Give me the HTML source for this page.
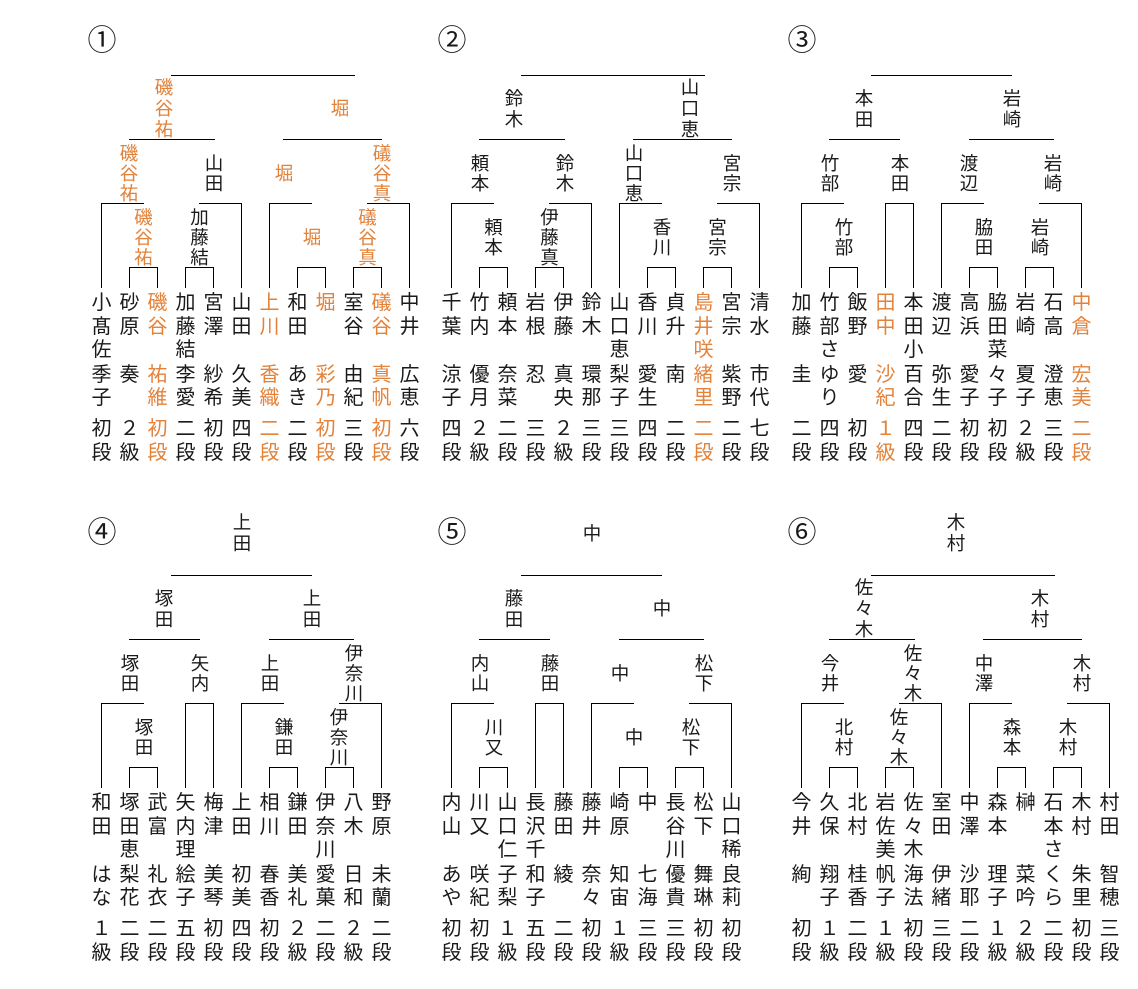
<!DOCTYPE html>
<html><head><meta charset="utf-8">
<style>
html,body{margin:0;padding:0;background:#fff}
body{width:1138px;height:989px;position:relative;overflow:hidden;font-family:"Liberation Sans","Noto Sans CJK JP",sans-serif;color:#1a1a1a}
svg{position:absolute;left:0;top:0}
.c{position:absolute;width:40px;height:10px}
.c div{position:absolute;left:0;width:40px;text-align:center;font-size:20px}
.c .s{top:292.1px;line-height:23.5px}
.c .g{top:364.2px;line-height:23px}
.c .r{top:416.7px;line-height:24px}
.l{position:absolute;width:40px;text-align:center;font-size:18.5px;line-height:20px}
.lt{line-height:21px}
.o{color:#e3823a}
.n{position:absolute;width:40px;text-align:center;font-size:29px;line-height:32px}
</style></head><body>
<svg width="1138" height="989" viewBox="0 0 1138 989" shape-rendering="crispEdges">
<defs>
<g id="A" fill="#000">
<rect x="171" y="75" width="184" height="1"/>
<rect x="129" y="139" width="86" height="1"/>
<rect x="283" y="139" width="99" height="1"/>
<rect x="101" y="203" width="43" height="1"/><rect x="101" y="203" width="1" height="85"/>
<rect x="199" y="203" width="43" height="1"/><rect x="241" y="203" width="1" height="85"/>
<rect x="269" y="203" width="43" height="1"/><rect x="269" y="203" width="1" height="85"/>
<rect x="367" y="203" width="43" height="1"/><rect x="409" y="203" width="1" height="85"/>
<rect x="129" y="267" width="29" height="1"/><rect x="129" y="267" width="1" height="21"/><rect x="157" y="267" width="1" height="21"/>
<rect x="185" y="267" width="29" height="1"/><rect x="185" y="267" width="1" height="21"/><rect x="213" y="267" width="1" height="21"/>
<rect x="297" y="267" width="29" height="1"/><rect x="297" y="267" width="1" height="21"/><rect x="325" y="267" width="1" height="21"/>
<rect x="353" y="267" width="29" height="1"/><rect x="353" y="267" width="1" height="21"/><rect x="381" y="267" width="1" height="21"/>
</g>
<g id="B" fill="#000">
<rect x="171" y="75" width="141" height="1"/>
<rect x="129" y="139" width="71" height="1"/>
<rect x="269" y="139" width="85" height="1"/>
<rect x="101" y="203" width="43" height="1"/><rect x="101" y="203" width="1" height="85"/>
<rect x="185" y="203" width="29" height="1"/><rect x="185" y="203" width="1" height="85"/><rect x="213" y="203" width="1" height="85"/>
<rect x="241" y="203" width="43" height="1"/><rect x="241" y="203" width="1" height="85"/>
<rect x="339" y="203" width="43" height="1"/><rect x="381" y="203" width="1" height="85"/>
<rect x="129" y="267" width="29" height="1"/><rect x="129" y="267" width="1" height="21"/><rect x="157" y="267" width="1" height="21"/>
<rect x="269" y="267" width="29" height="1"/><rect x="269" y="267" width="1" height="21"/><rect x="297" y="267" width="1" height="21"/>
<rect x="325" y="267" width="29" height="1"/><rect x="325" y="267" width="1" height="21"/><rect x="353" y="267" width="1" height="21"/>
</g>
</defs>
<use href="#A"/>
<use href="#A" transform="translate(350,0)"/>
<use href="#B" transform="translate(700,0)"/>
<use href="#B" transform="translate(0,500)"/>
<use href="#B" transform="translate(350,500)"/>
<use href="#A" transform="translate(700,500)"/>
</svg>

<!-- numbers -->
<div class="n" style="left:82px;top:24.5px">①</div>
<div class="n" style="left:432px;top:24.5px">②</div>
<div class="n" style="left:782px;top:24.5px">③</div>
<div class="n" style="left:82px;top:516.5px">④</div>
<div class="n" style="left:432px;top:516.5px">⑤</div>
<div class="n" style="left:782px;top:516.5px">⑥</div>

<!-- Bracket 1 labels -->
<div class="l lt o" style="left:144px;top:77.1px">磯<br>谷<br>祐</div>
<div class="l lt o" style="left:320px;top:98.1px">堀</div>
<div class="l o" style="left:109px;top:143.6px">磯<br>谷<br>祐</div>
<div class="l" style="left:194px;top:153.6px">山<br>田</div>
<div class="l o" style="left:264px;top:163.6px">堀</div>
<div class="l o" style="left:362px;top:143.6px">礒<br>谷<br>真</div>
<div class="l o" style="left:123.5px;top:207.6px">磯<br>谷<br>祐</div>
<div class="l" style="left:179.5px;top:207.6px">加<br>藤<br>結</div>
<div class="l o" style="left:292px;top:227.6px">堀</div>
<div class="l o" style="left:347.5px;top:207.6px">礒<br>谷<br>真</div>

<!-- Bracket 2 labels -->
<div class="l lt" style="left:494px;top:87.6px">鈴<br>木</div>
<div class="l lt" style="left:670px;top:77.1px">山<br>口<br>恵</div>
<div class="l" style="left:460px;top:153.6px">頼<br>本</div>
<div class="l" style="left:545px;top:153.6px">鈴<br>木</div>
<div class="l" style="left:614px;top:143.6px">山<br>口<br>恵</div>
<div class="l" style="left:712px;top:153.6px">宮<br>宗</div>
<div class="l" style="left:473.5px;top:217.6px">頼<br>本</div>
<div class="l" style="left:529.5px;top:207.6px">伊<br>藤<br>真</div>
<div class="l" style="left:642px;top:217.6px">香<br>川</div>
<div class="l" style="left:697.5px;top:217.6px">宮<br>宗</div>

<!-- Bracket 3 labels -->
<div class="l lt" style="left:844px;top:87.6px">本<br>田</div>
<div class="l lt" style="left:992px;top:87.6px">岩<br>崎</div>
<div class="l" style="left:810px;top:153.6px">竹<br>部</div>
<div class="l" style="left:880px;top:153.6px">本<br>田</div>
<div class="l" style="left:949px;top:153.6px">渡<br>辺</div>
<div class="l" style="left:1033px;top:153.6px">岩<br>崎</div>
<div class="l" style="left:824px;top:217.6px">竹<br>部</div>
<div class="l" style="left:964px;top:217.6px">脇<br>田</div>
<div class="l" style="left:1020px;top:217.6px">岩<br>崎</div>

<!-- Bracket 4 labels -->
<div class="l lt" style="left:222px;top:512.1px">上<br>田</div>
<div class="l lt" style="left:144px;top:587.6px">塚<br>田</div>
<div class="l lt" style="left:292px;top:587.6px">上<br>田</div>
<div class="l" style="left:110px;top:653.6px">塚<br>田</div>
<div class="l" style="left:180px;top:653.6px">矢<br>内</div>
<div class="l" style="left:250px;top:653.6px">上<br>田</div>
<div class="l" style="left:334px;top:643.6px">伊<br>奈<br>川</div>
<div class="l" style="left:124px;top:717.6px">塚<br>田</div>
<div class="l" style="left:264px;top:717.6px">鎌<br>田</div>
<div class="l" style="left:319px;top:707.6px">伊<br>奈<br>川</div>

<!-- Bracket 5 labels -->
<div class="l lt" style="left:572px;top:522.6px">中</div>
<div class="l lt" style="left:494px;top:587.6px">藤<br>田</div>
<div class="l lt" style="left:642px;top:598.1px">中</div>
<div class="l" style="left:460px;top:653.6px">内<br>山</div>
<div class="l" style="left:530px;top:653.6px">藤<br>田</div>
<div class="l" style="left:600px;top:663.6px">中</div>
<div class="l" style="left:684px;top:653.6px">松<br>下</div>
<div class="l" style="left:474px;top:717.6px">川<br>又</div>
<div class="l" style="left:614px;top:727.6px">中</div>
<div class="l" style="left:671px;top:717.6px">松<br>下</div>

<!-- Bracket 6 labels -->
<div class="l lt" style="left:936px;top:512.1px">木<br>村</div>
<div class="l lt" style="left:844px;top:577.1px">佐<br>々<br>木</div>
<div class="l lt" style="left:1020px;top:587.6px">木<br>村</div>
<div class="l" style="left:810px;top:653.6px">今<br>井</div>
<div class="l" style="left:893px;top:643.6px">佐<br>々<br>木</div>
<div class="l" style="left:964px;top:653.6px">中<br>澤</div>
<div class="l" style="left:1062px;top:653.6px">木<br>村</div>
<div class="l" style="left:824px;top:717.6px">北<br>村</div>
<div class="l" style="left:879px;top:707.6px">佐<br>々<br>木</div>
<div class="l" style="left:992px;top:717.6px">森<br>本</div>
<div class="l" style="left:1048px;top:717.6px">木<br>村</div>

<!-- Bracket 1 players -->
<div class="c" style="left:81.5px;top:0"><div class="s">小<br>髙<br>佐</div><div class="g">季<br>子</div><div class="r">初<br>段</div></div>
<div class="c" style="left:109.5px;top:0"><div class="s">砂<br>原</div><div class="g">奏</div><div class="r">２<br>級</div></div>
<div class="c o" style="left:137.5px;top:0"><div class="s">磯<br>谷</div><div class="g">祐<br>維</div><div class="r">初<br>段</div></div>
<div class="c" style="left:165.5px;top:0"><div class="s">加<br>藤<br>結</div><div class="g">李<br>愛</div><div class="r">二<br>段</div></div>
<div class="c" style="left:193.5px;top:0"><div class="s">宮<br>澤</div><div class="g">紗<br>希</div><div class="r">初<br>段</div></div>
<div class="c" style="left:221.5px;top:0"><div class="s">山<br>田</div><div class="g">久<br>美</div><div class="r">四<br>段</div></div>
<div class="c o" style="left:249.5px;top:0"><div class="s">上<br>川</div><div class="g">香<br>織</div><div class="r">二<br>段</div></div>
<div class="c" style="left:277.5px;top:0"><div class="s">和<br>田</div><div class="g">あ<br>き</div><div class="r">二<br>段</div></div>
<div class="c o" style="left:305.5px;top:0"><div class="s">堀</div><div class="g">彩<br>乃</div><div class="r">初<br>段</div></div>
<div class="c" style="left:333.5px;top:0"><div class="s">室<br>谷</div><div class="g">由<br>紀</div><div class="r">三<br>段</div></div>
<div class="c o" style="left:361.5px;top:0"><div class="s">礒<br>谷</div><div class="g">真<br>帆</div><div class="r">初<br>段</div></div>
<div class="c" style="left:389.5px;top:0"><div class="s">中<br>井</div><div class="g">広<br>恵</div><div class="r">六<br>段</div></div>

<!-- Bracket 2 players -->
<div class="c" style="left:431.5px;top:0"><div class="s">千<br>葉</div><div class="g">涼<br>子</div><div class="r">四<br>段</div></div>
<div class="c" style="left:459.5px;top:0"><div class="s">竹<br>内</div><div class="g">優<br>月</div><div class="r">２<br>級</div></div>
<div class="c" style="left:487.5px;top:0"><div class="s">頼<br>本</div><div class="g">奈<br>菜</div><div class="r">二<br>段</div></div>
<div class="c" style="left:515.5px;top:0"><div class="s">岩<br>根</div><div class="g">忍</div><div class="r">三<br>段</div></div>
<div class="c" style="left:543.5px;top:0"><div class="s">伊<br>藤</div><div class="g">真<br>央</div><div class="r">２<br>級</div></div>
<div class="c" style="left:571.5px;top:0"><div class="s">鈴<br>木</div><div class="g">環<br>那</div><div class="r">三<br>段</div></div>
<div class="c" style="left:599.5px;top:0"><div class="s">山<br>口<br>恵</div><div class="g">梨<br>子</div><div class="r">三<br>段</div></div>
<div class="c" style="left:627.5px;top:0"><div class="s">香<br>川</div><div class="g">愛<br>生</div><div class="r">四<br>段</div></div>
<div class="c" style="left:655.5px;top:0"><div class="s">貞<br>升</div><div class="g">南</div><div class="r">二<br>段</div></div>
<div class="c o" style="left:683.5px;top:0"><div class="s">島<br>井<br>咲</div><div class="g">緒<br>里</div><div class="r">二<br>段</div></div>
<div class="c" style="left:711.5px;top:0"><div class="s">宮<br>宗</div><div class="g">紫<br>野</div><div class="r">二<br>段</div></div>
<div class="c" style="left:739.5px;top:0"><div class="s">清<br>水</div><div class="g">市<br>代</div><div class="r">七<br>段</div></div>

<!-- Bracket 3 players -->
<div class="c" style="left:781.5px;top:0"><div class="s">加<br>藤</div><div class="g">圭</div><div class="r">二<br>段</div></div>
<div class="c" style="left:809.5px;top:0"><div class="s">竹<br>部<br>さ</div><div class="g">ゆ<br>り</div><div class="r">四<br>段</div></div>
<div class="c" style="left:837.5px;top:0"><div class="s">飯<br>野</div><div class="g">愛</div><div class="r">初<br>段</div></div>
<div class="c o" style="left:865.5px;top:0"><div class="s">田<br>中</div><div class="g">沙<br>紀</div><div class="r">１<br>級</div></div>
<div class="c" style="left:893.5px;top:0"><div class="s">本<br>田<br>小</div><div class="g">百<br>合</div><div class="r">四<br>段</div></div>
<div class="c" style="left:921.5px;top:0"><div class="s">渡<br>辺</div><div class="g">弥<br>生</div><div class="r">二<br>段</div></div>
<div class="c" style="left:949.5px;top:0"><div class="s">高<br>浜</div><div class="g">愛<br>子</div><div class="r">初<br>段</div></div>
<div class="c" style="left:977.5px;top:0"><div class="s">脇<br>田<br>菜</div><div class="g">々<br>子</div><div class="r">初<br>段</div></div>
<div class="c" style="left:1005.5px;top:0"><div class="s">岩<br>崎</div><div class="g">夏<br>子</div><div class="r">２<br>級</div></div>
<div class="c" style="left:1033.5px;top:0"><div class="s">石<br>高</div><div class="g">澄<br>恵</div><div class="r">三<br>段</div></div>
<div class="c o" style="left:1061.5px;top:0"><div class="s">中<br>倉</div><div class="g">宏<br>美</div><div class="r">二<br>段</div></div>

<!-- Bracket 4 players -->
<div class="c" style="left:81.5px;top:500px"><div class="s">和<br>田</div><div class="g">は<br>な</div><div class="r">１<br>級</div></div>
<div class="c" style="left:109.5px;top:500px"><div class="s">塚<br>田<br>恵</div><div class="g">梨<br>花</div><div class="r">二<br>段</div></div>
<div class="c" style="left:137.5px;top:500px"><div class="s">武<br>富</div><div class="g">礼<br>衣</div><div class="r">二<br>段</div></div>
<div class="c" style="left:165.5px;top:500px"><div class="s">矢<br>内<br>理</div><div class="g">絵<br>子</div><div class="r">五<br>段</div></div>
<div class="c" style="left:193.5px;top:500px"><div class="s">梅<br>津</div><div class="g">美<br>琴</div><div class="r">初<br>段</div></div>
<div class="c" style="left:221.5px;top:500px"><div class="s">上<br>田</div><div class="g">初<br>美</div><div class="r">四<br>段</div></div>
<div class="c" style="left:249.5px;top:500px"><div class="s">相<br>川</div><div class="g">春<br>香</div><div class="r">初<br>段</div></div>
<div class="c" style="left:277.5px;top:500px"><div class="s">鎌<br>田</div><div class="g">美<br>礼</div><div class="r">２<br>級</div></div>
<div class="c" style="left:305.5px;top:500px"><div class="s">伊<br>奈<br>川</div><div class="g">愛<br>菓</div><div class="r">二<br>段</div></div>
<div class="c" style="left:333.5px;top:500px"><div class="s">八<br>木</div><div class="g">日<br>和</div><div class="r">２<br>級</div></div>
<div class="c" style="left:361.5px;top:500px"><div class="s">野<br>原</div><div class="g">未<br>蘭</div><div class="r">二<br>段</div></div>

<!-- Bracket 5 players -->
<div class="c" style="left:431.5px;top:500px"><div class="s">内<br>山</div><div class="g">あ<br>や</div><div class="r">初<br>段</div></div>
<div class="c" style="left:459.5px;top:500px"><div class="s">川<br>又</div><div class="g">咲<br>紀</div><div class="r">初<br>段</div></div>
<div class="c" style="left:487.5px;top:500px"><div class="s">山<br>口<br>仁</div><div class="g">子<br>梨</div><div class="r">１<br>級</div></div>
<div class="c" style="left:515.5px;top:500px"><div class="s">長<br>沢<br>千</div><div class="g">和<br>子</div><div class="r">五<br>段</div></div>
<div class="c" style="left:543.5px;top:500px"><div class="s">藤<br>田</div><div class="g">綾</div><div class="r">二<br>段</div></div>
<div class="c" style="left:571.5px;top:500px"><div class="s">藤<br>井</div><div class="g">奈<br>々</div><div class="r">初<br>段</div></div>
<div class="c" style="left:599.5px;top:500px"><div class="s">崎<br>原</div><div class="g">知<br>宙</div><div class="r">１<br>級</div></div>
<div class="c" style="left:627.5px;top:500px"><div class="s">中</div><div class="g">七<br>海</div><div class="r">三<br>段</div></div>
<div class="c" style="left:655.5px;top:500px"><div class="s">長<br>谷<br>川</div><div class="g">優<br>貴</div><div class="r">三<br>段</div></div>
<div class="c" style="left:683.5px;top:500px"><div class="s">松<br>下</div><div class="g">舞<br>琳</div><div class="r">初<br>段</div></div>
<div class="c" style="left:711.5px;top:500px"><div class="s">山<br>口<br>稀</div><div class="g">良<br>莉</div><div class="r">初<br>段</div></div>

<!-- Bracket 6 players -->
<div class="c" style="left:781.5px;top:500px"><div class="s">今<br>井</div><div class="g">絢</div><div class="r">初<br>段</div></div>
<div class="c" style="left:809.5px;top:500px"><div class="s">久<br>保</div><div class="g">翔<br>子</div><div class="r">１<br>級</div></div>
<div class="c" style="left:837.5px;top:500px"><div class="s">北<br>村</div><div class="g">桂<br>香</div><div class="r">二<br>段</div></div>
<div class="c" style="left:865.5px;top:500px"><div class="s">岩<br>佐<br>美</div><div class="g">帆<br>子</div><div class="r">１<br>級</div></div>
<div class="c" style="left:893.5px;top:500px"><div class="s">佐<br>々<br>木</div><div class="g">海<br>法</div><div class="r">初<br>段</div></div>
<div class="c" style="left:921.5px;top:500px"><div class="s">室<br>田</div><div class="g">伊<br>緒</div><div class="r">三<br>段</div></div>
<div class="c" style="left:949.5px;top:500px"><div class="s">中<br>澤</div><div class="g">沙<br>耶</div><div class="r">二<br>段</div></div>
<div class="c" style="left:977.5px;top:500px"><div class="s">森<br>本</div><div class="g">理<br>子</div><div class="r">１<br>級</div></div>
<div class="c" style="left:1005.5px;top:500px"><div class="s">榊</div><div class="g">菜<br>吟</div><div class="r">２<br>級</div></div>
<div class="c" style="left:1033.5px;top:500px"><div class="s">石<br>本<br>さ</div><div class="g">く<br>ら</div><div class="r">二<br>段</div></div>
<div class="c" style="left:1061.5px;top:500px"><div class="s">木<br>村</div><div class="g">朱<br>里</div><div class="r">初<br>段</div></div>
<div class="c" style="left:1089.5px;top:500px"><div class="s">村<br>田</div><div class="g">智<br>穂</div><div class="r">三<br>段</div></div>
</body></html>
